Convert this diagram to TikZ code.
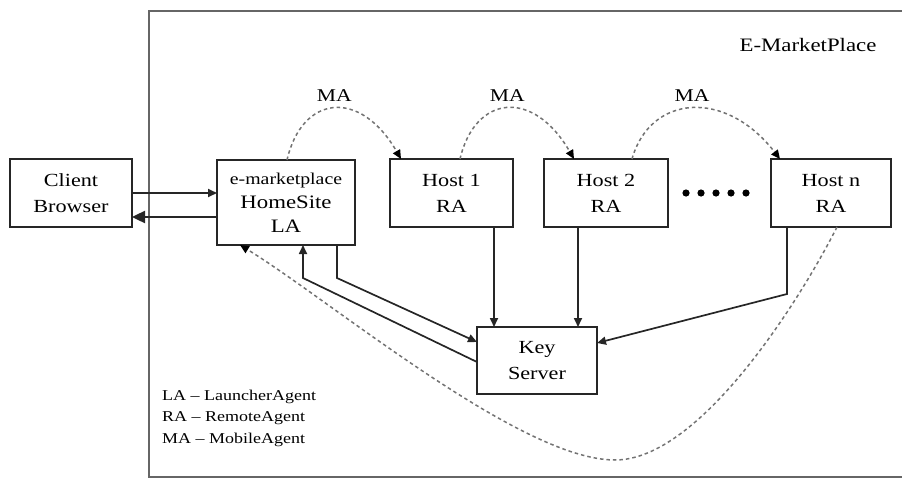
\documentclass[tikz,border=0pt]{standalone}
\usepackage{fontspec}
\setmainfont{Liberation Serif}[FakeStretch=1.2]
\usetikzlibrary{positioning,shapes,arrows.meta}

\tikzset{
    box/.style={draw=black!85, line width=2pt, fill=white, inner sep=0pt, outer sep=0pt,
        align=center, font=\fontsize{18.5}{26}\selectfont},
    link/.style={line width=1.7pt, draw=black!85, -{Triangle[length=9pt,width=8pt]}},
    agent/.style={line width=1.5pt, draw=black!55, dash pattern=on 3.5pt off 3pt,
        -{Triangle[length=9pt,width=8pt,black]}},
    label/.style={font=\fontsize{18}{20}\selectfont}
}

\begin{document}
\begin{tikzpicture}[x=1pt, y=-1pt]
    \useasboundingbox (0,0) rectangle (902,479);

    \draw[line width=2.2pt, draw=black!60] (903,11) -- (149,11) -- (149,477) -- (903,477);
    \node[label, font=\fontsize{19}{20}\selectfont] (market) at (808,45) {E-MarketPlace};

    \node[box, minimum width=122pt, minimum height=68pt] (client) at (71,193) {Client\\Browser};
    \node[box, minimum width=138pt, minimum height=85pt, font=\fontsize{19}{24}\selectfont] (home) at (286,202.5)
        {{\fontsize{16.5}{24}\selectfont e-marketplace}\\HomeSite\\LA};
    \node[box, minimum width=123pt, minimum height=68pt] (host1) at (451.5,193) {Host 1\\RA};
    \node[box, minimum width=124pt, minimum height=68pt] (host2) at (606,193) {Host 2\\RA};
    \node[box, minimum width=120pt, minimum height=68pt] (hostn) at (831,193) {Host n\\RA};
    \node[box, minimum width=120pt, minimum height=67pt] (key) at (537,360.5) {Key\\Server};

    \foreach \i in {0,...,4}
        \fill (686+15*\i,193) circle (3.6pt);

    \draw[link] (client.east |- 0,193) -- (home.west |- 0,193);
    \draw[link, line width=2.4pt, -{Triangle[length=13pt,width=12pt]}] (home.west |- 0,217) -- (client.east |- 0,217);

    \draw[link] (key.west |- 0,362) -- (303,278) -- (home.south -| 303,0);
    \draw[link] (home.south -| 337,0) -- (337,278) -- (key.west |- 0,342);
    \draw[link] (host1.south -| 494,0) -- (key.north -| 494,0);
    \draw[link] (host2.south -| 578,0) -- (key.north -| 578,0);
    \draw[link] (hostn.south -| 787,0) -- (787,294) -- (key.east |- 0,343);

    \draw[agent] (home.north -| 287,0) .. controls (302,95) and (360,88) .. (host1.north -| 401,0)
        node[label, pos=0.5, above=3pt] (ma1) {MA};
    \draw[agent] (host1.north -| 460,0) .. controls (475,95) and (533,88) .. (host2.north -| 574,0)
        node[label, pos=0.5, above=3pt] (ma2) {MA};
    \draw[agent] (host2.north -| 632,0) .. controls (650,95) and (725,88) .. (hostn.north -| 780,0)
        node[label, pos=0.5, above=3pt] (ma3) {MA};

    \draw[agent] (hostn.south -| 837,0) .. controls (800,300) and (700,460) .. (615,460)
        .. controls (520,460) and (330,300) .. (home.south -| 240,0);

    \node[anchor=west, align=left, inner sep=0pt, font=\fontsize{15}{21.5}\selectfont] (legend) at (162,418)
        {LA -- LauncherAgent\\RA -- RemoteAgent\\MA -- MobileAgent};
\end{tikzpicture}
\end{document}
